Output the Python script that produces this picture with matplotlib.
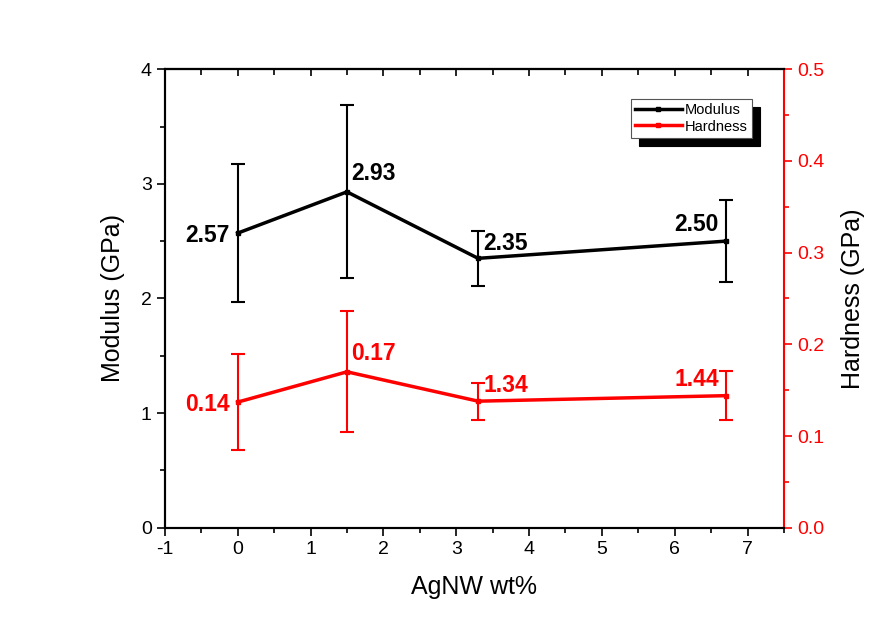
import matplotlib.pyplot as plt
from matplotlib.ticker import MultipleLocator
from matplotlib.lines import Line2D

plt.rcParams['font.family'] = ['Liberation Sans', 'DejaVu Sans']
plt.rcParams['axes.unicode_minus'] = False

# Data
wt = [0, 1.5, 3.3, 6.7]
modulus = [2.57, 2.93, 2.35, 2.50]
modulus_err = [0.60, 0.755, 0.24, 0.36]
hardness = [0.137, 0.170, 0.138, 0.144]
hardness_err = [0.052, 0.066, 0.020, 0.027]
mod_labels = ['2.57', '2.93', '2.35', '2.50']
hard_labels = ['0.14', '0.17', '1.34', '1.44']

fig = plt.figure(figsize=(8.96, 6.29), dpi=100)
ax = fig.add_axes([0.184, 0.161, 0.691, 0.729])
ax2 = ax.twinx()

# Modulus on the left axis
ax.errorbar(wt, modulus, yerr=modulus_err, color='black', linewidth=2.5,
            marker='s', markersize=3.5, elinewidth=1.5, capsize=5, capthick=1.5)

# Hardness on the right axis
ax2.errorbar(wt, hardness, yerr=hardness_err, color='red', linewidth=2.5,
             marker='s', markersize=3.5, elinewidth=1.5, capsize=5, capthick=1.5)

# Value labels
offsets = [(-6, -2), (3, 13), (4, 11), (-5, 12)]
ha_list = ['right', 'left', 'left', 'right']
for x, y, t, off, ha in zip(wt, modulus, mod_labels, offsets, ha_list):
    ax.annotate(t, (x, y), xytext=off, textcoords='offset points', ha=ha, va='center',
                fontsize=16.5, fontweight='bold', color='black')

for x, y, t, off, ha in zip(wt, hardness, hard_labels, offsets, ha_list):
    ax2.annotate(t, (x, y), xytext=off, textcoords='offset points', ha=ha, va='center',
                 fontsize=16.5, fontweight='bold', color='red')

ax.set_xlim(-1, 7.5)
ax.set_ylim(0, 4)
ax2.set_ylim(0, 0.5)

ax.xaxis.set_major_locator(MultipleLocator(1))
ax.xaxis.set_minor_locator(MultipleLocator(0.5))
ax.yaxis.set_major_locator(MultipleLocator(1))
ax.yaxis.set_minor_locator(MultipleLocator(0.5))
ax2.yaxis.set_major_locator(MultipleLocator(0.1))
ax2.yaxis.set_minor_locator(MultipleLocator(0.05))
ax2.yaxis.set_major_formatter(plt.FormatStrFormatter('%.1f'))

ax.tick_params(axis='x', which='major', direction='out', length=6, width=1.2, labelsize=14)
ax.tick_params(axis='x', which='minor', direction='out', length=3.5, width=1.2)
ax.tick_params(axis='y', which='major', direction='out', length=6, width=1.2, labelsize=14)
ax.tick_params(axis='y', which='minor', direction='out', length=3.5, width=1.2)
ax.tick_params(axis='y', which='both', right=False)
ax2.tick_params(axis='y', which='major', colors='red', direction='out', length=6, width=1.2,
                labelsize=14)
ax2.tick_params(axis='y', which='minor', colors='red', direction='out', length=3.5, width=1.2)

# inward ticks along the top spine
top = ax.secondary_xaxis('top')
top.xaxis.set_major_locator(MultipleLocator(1))
top.xaxis.set_minor_locator(MultipleLocator(0.5))
top.tick_params(which='major', direction='in', length=5, width=1.2, labeltop=False)
top.tick_params(which='minor', direction='in', length=4, width=1.2)
top.spines['top'].set_linewidth(1.5)

for s in ['left', 'bottom', 'top']:
    ax.spines[s].set_linewidth(1.5)
    ax2.spines[s].set_linewidth(1.5)
ax2.spines['right'].set_color('red')
ax2.spines['right'].set_linewidth(1.5)
ax.spines['right'].set_visible(False)

ax.set_xlabel('AgNW wt%', fontsize=18, labelpad=12)
ax.set_ylabel('Modulus (GPa)', fontsize=18, labelpad=11)
ax2.set_ylabel('Hardness (GPa)', fontsize=18, labelpad=12, color='black')

handles = [Line2D([], [], color='black', linewidth=2.5, marker='s', markersize=3.5),
           Line2D([], [], color='red', linewidth=2.5, marker='s', markersize=3.5)]
leg = ax2.legend(handles, ['Modulus', 'Hardness'], loc='upper right',
                 bbox_to_anchor=(0.948, 0.935), fontsize=10.5,
                 shadow={'color': 'black', 'alpha': 1, 'ox': 6, 'oy': -6},
                 fancybox=False, edgecolor='#555555', framealpha=1, handlelength=3.2,
                 borderpad=0.3, labelspacing=0.15, handletextpad=0.2, borderaxespad=0)
leg.get_frame().set_linewidth(0.8)

fig.savefig('out.png', dpi=100)
